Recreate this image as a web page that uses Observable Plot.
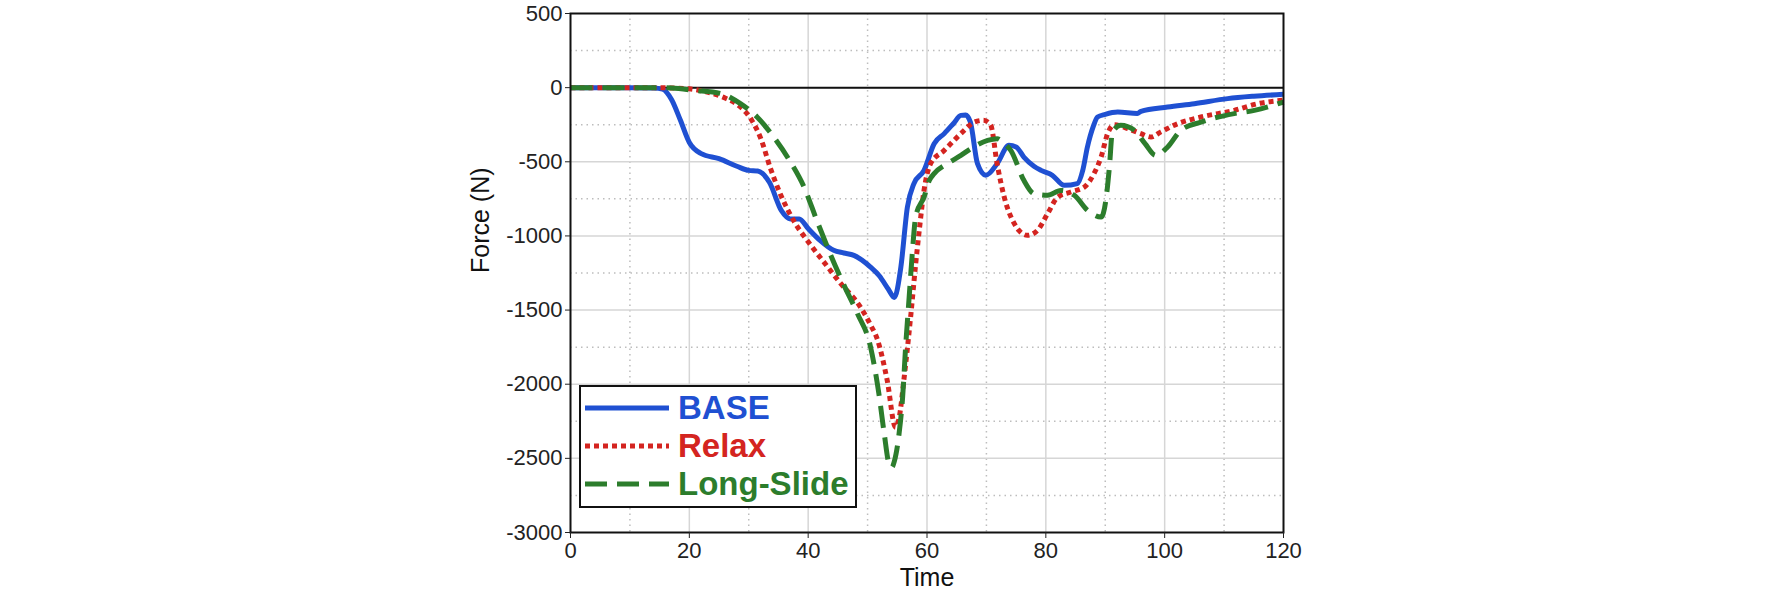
<!DOCTYPE html>
<html>
<head>
<meta charset="utf-8">
<script src="https://cdn.jsdelivr.net/npm/d3@7"></script>
<script src="https://cdn.jsdelivr.net/npm/@observablehq/plot@0.6"></script>
<style>
  html, body { margin: 0; padding: 0; background: #fff; }
  #wrap { position: relative; width: 1772px; height: 596px; font-family: "Liberation Sans", Arial, sans-serif; }
  #legend {
    position: absolute; left: 579px; top: 385px; width: 274px; height: 119px;
    border: 2px solid #111; background: #fff;
  }
  .row { position: absolute; left: 0; height: 38px; display: flex; align-items: center; }
  .row svg { margin-left: 4px; margin-right: 9px; }
  .row span { font-weight: bold; font-size: 33px; line-height: 38px; }
</style>
</head>
<body>
<div id="wrap"></div>
<script>
// Time samples and force readings (N) for each configuration
const timeBase = [0,5,10,14,15.5,17,18.5,20,22,25,28,30,31.5,33.5,35.5,37,38.5,40,42,44.3,46,47.7,50.5,52,53.5,54.5,55.6,56.7,57.8,59.5,61.2,62.9,64.5,65.7,66.5,67.3,68.5,69.9,71.8,73.8,75,76.3,78,79.2,81.1,83.1,85.3,86.2,87,88,88.7,90,92.1,95.4,96,100.5,105,110.6,115,120];
const forceBase = [0,0,0,-2,-10,-80,-220,-370,-445,-479,-530,-558,-562,-640,-830,-885,-885,-950,-1030,-1097,-1115,-1131,-1210,-1270,-1360,-1415,-1210,-805,-647,-558,-378,-310,-240,-187,-185,-232,-513,-591,-513,-389,-400,-468,-530,-558,-591,-659,-647,-560,-400,-260,-198,-180,-165,-175,-160,-131,-108,-74,-58,-45];

const timeRelax = [0,5,10,15,17,20,23,26,28,29.5,30.5,32,33.7,35.4,37.6,40.4,43.2,45.5,48.8,50.5,51.7,53.3,54.7,55.3,56.1,57.3,58.1,58.7,59.5,60.6,62.9,65.7,68,69.5,70.7,71.8,73,74.7,76.9,78.6,80.3,82,84.2,86.5,88.1,89.3,90.4,91.5,93.8,96,97.7,99.3,102.2,106.1,111.7,115.7,120];
const forceRelax = [0,0,0,0,-2,-8,-30,-70,-112,-165,-220,-340,-550,-725,-900,-1060,-1205,-1322,-1480,-1600,-1704,-1974,-2290,-2230,-1974,-1524,-1187,-962,-693,-513,-423,-310,-232,-220,-250,-513,-738,-917,-996,-962,-850,-738,-704,-670,-580,-468,-310,-250,-277,-310,-333,-300,-243,-198,-153,-108,-85];

const timeLong = [0,5,10,15,17,20.8,25.3,28.6,31.4,34.2,37,39.3,41.5,43.8,46,48.3,50.5,51.9,52.8,53.6,54.1,54.5,55.3,55.9,56.4,57,57.5,58.1,59.5,60.4,61.2,63.4,65.7,67.4,70.2,71.8,73,74.1,76.3,78,80.3,82.5,84.8,87,89.3,90.1,90.7,91.2,92.6,94.9,96.7,98.5,100.5,102.7,106.1,111.7,115.1,120];
const forceLong = [0,0,0,0,-3,-18,-40,-108,-198,-333,-500,-670,-900,-1130,-1330,-1524,-1749,-2064,-2333,-2536,-2560,-2520,-2333,-2087,-1749,-1412,-1130,-870,-738,-625,-580,-513,-457,-411,-355,-344,-378,-423,-625,-715,-726,-693,-726,-827,-873,-760,-535,-300,-254,-288,-378,-457,-400,-288,-232,-175,-153,-97];

const seriesNames = ["BASE", "Relax", "Long-Slide"];
const seriesColors = ["#1f50d2", "#d42420", "#2c7d2c"];
const seriesDash = [null, "5,4", "22,10"];

// Axis ticks and grid positions
const xTicks = [0, 20, 40, 60, 80, 100, 120];
const xMinor = [10, 30, 50, 70, 90, 110];
const yTicks = [500, 0, -500, -1000, -1500, -2000, -2500, -3000];
const yMinor = [250, -250, -750, -1250, -1750, -2250, -2750];

const toRows = (ts, fs) => ts.map((t, i) => ({t, f: fs[i]}));
const rows = [toRows(timeBase, forceBase), toRows(timeRelax, forceRelax), toRows(timeLong, forceLong)];

const chart = Plot.plot({
  width: 1772,
  height: 596,
  marginLeft: 570,
  marginRight: 489,
  marginTop: 13,
  marginBottom: 64,
  style: {fontFamily: "'Liberation Sans', Arial, sans-serif", color: "#222", background: "#fff"},
  x: {domain: [0, 120]},
  y: {domain: [-3000, 500]},
  marks: [
    Plot.ruleX(xMinor, {stroke: "#bdbdbd", strokeWidth: 1.5, strokeDasharray: "1.5,4"}),
    Plot.ruleY(yMinor, {stroke: "#bdbdbd", strokeWidth: 1.5, strokeDasharray: "1.5,4"}),
    Plot.ruleX(xTicks.slice(1, -1), {stroke: "#d6d6d6", strokeWidth: 1.5}),
    Plot.ruleY(yTicks.slice(1, -1), {stroke: "#d6d6d6", strokeWidth: 1.5}),
    Plot.ruleY([0], {stroke: "#111", strokeWidth: 2}),
    ...rows.map((data, i) => Plot.line(data, {
      x: "t", y: "f", curve: "monotone-x",
      stroke: seriesColors[i], strokeWidth: 5,
      strokeDasharray: seriesDash[i], strokeLinecap: "butt", strokeLinejoin: "round"
    })),
    Plot.frame({stroke: "#111", strokeWidth: 2}),
    Plot.axisX({ticks: xTicks, tickSize: 6, tickPadding: 4, fontSize: 22, label: null, tickFormat: d => String(d)}),
    Plot.axisY({ticks: yTicks, tickSize: 5, tickPadding: 3, fontSize: 22, label: null, tickFormat: d => String(d)}),
    Plot.text(["Time"], {frameAnchor: "bottom", dy: 53, fontSize: 25, fill: "#111"}),
    Plot.text(["Force (N)"], {frameAnchor: "left", dx: -90, rotate: -90, fontSize: 25, fill: "#111"})
  ]
});

const wrap = document.getElementById("wrap");
wrap.appendChild(chart);

// Legend box inside the plot area
const legend = document.createElement("div");
legend.id = "legend";
seriesNames.forEach((name, i) => {
  const row = document.createElement("div");
  row.className = "row";
  row.style.top = (2 + i * 38) + "px";
  row.innerHTML =
    `<svg width="84" height="10"><line x1="0" x2="84" y1="5" y2="5" stroke="${seriesColors[i]}" stroke-width="5"` +
    (seriesDash[i] ? ` stroke-dasharray="${seriesDash[i]}"` : "") +
    `/></svg><span style="color:${seriesColors[i]}">${name}</span>`;
  legend.appendChild(row);
});
wrap.appendChild(legend);
</script>
</body>
</html>
